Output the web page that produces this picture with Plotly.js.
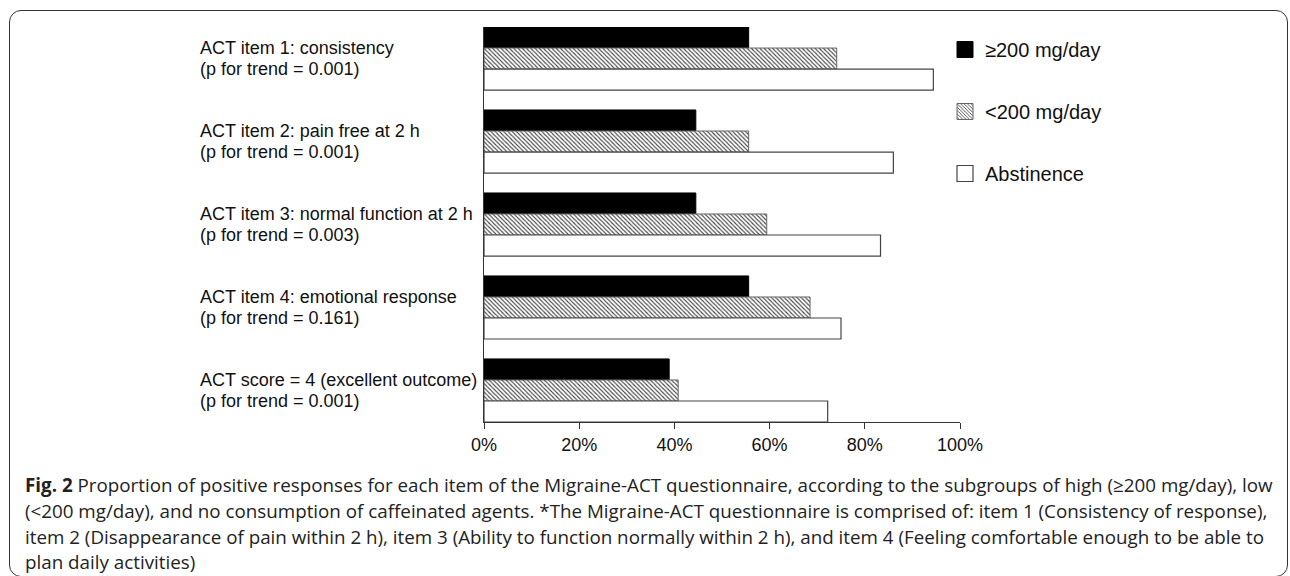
<!DOCTYPE html>
<html>
<head>
<meta charset="utf-8">
<script src="https://cdn.plot.ly/plotly-3.0.1.min.js"></script>
<style>
  html, body { margin: 0; padding: 0; background: #fff; }
  #wrap { position: relative; width: 1290px; height: 576px; overflow: hidden; }
  #chart { position: absolute; left: 0; top: 0; width: 1290px; height: 576px; }
  #frame { position: absolute; left: 9px; top: 10px; width: 1279px; height: 567px;
           border: 1.5px solid #333; border-radius: 12px; pointer-events: none; box-sizing: border-box; }
</style>
</head>
<body>
<div id="wrap">
  <div id="chart"></div>
  <div id="frame"></div>
</div>
<script>
// ---- data ----
const categories = [
  "ACT item 1: consistency<br>(p for trend = 0.001)",
  "ACT item 2: pain free at 2 h<br>(p for trend = 0.001)",
  "ACT item 3: normal function at 2 h<br>(p for trend = 0.003)",
  "ACT item 4: emotional response<br>(p for trend = 0.161)",
  "ACT score = 4 (excellent outcome)<br>(p for trend = 0.001)"
];
const seriesNames = ["≥200 mg/day", "<200 mg/day", "Abstinence"];
const high = [55.6, 44.5, 44.5, 55.6, 38.9];
const low = [74.1, 55.6, 59.4, 68.5, 40.8];
const abstinence = [94.4, 86.0, 83.3, 75.0, 72.2];
const xTickVals = [0, 20, 40, 60, 80, 100];
const xTickText = ["0%", "20%", "40%", "60%", "80%", "100%"];
const captionLines = [
  "<b>Fig. 2</b> Proportion of positive responses for each item of the Migraine-ACT questionnaire, according to the subgroups of high (≥200 mg/day), low",
  "(<200 mg/day), and no consumption of caffeinated agents. *The Migraine-ACT questionnaire is comprised of: item 1 (Consistency of response),",
  "item 2 (Disappearance of pain within 2 h), item 3 (Ability to function normally within 2 h), and item 4 (Feeling comfortable enough to be able to",
  "plan daily activities)"
];

// ---- layout geometry (pixels) ----
const W = 1290, H = 576;
const plotL = 484, plotR = 960, plotT = 27, plotB = 422;
const pw = plotR - plotL, ph = plotB - plotT;
const px2x = p => (p - plotL) / pw;
const py2y = p => (plotB - p) / ph;
const gap = 0.24;

const yIdx = categories.map((_, i) => i);

const traces = [
  { type: "bar", orientation: "h", name: seriesNames[0], x: high, y: yIdx, legendgroup: "a",
    marker: { color: "#000", line: { color: "#000", width: 1 } }, hoverinfo: "x+name" },
  { type: "bar", orientation: "h", name: seriesNames[1], x: low, y: yIdx, legendgroup: "b",
    marker: { color: "#fff", line: { color: "#666", width: 1 },
              pattern: { shape: "\\", size: 3, solidity: 0.35, fgcolor: "#3a3a3a", bgcolor: "#fff" } },
    hoverinfo: "x+name" },
  { type: "bar", orientation: "h", name: seriesNames[2], x: abstinence, y: yIdx, legendgroup: "c",
    marker: { color: "#fff", line: { color: "#444", width: 1.2 } }, hoverinfo: "x+name" }
];

const annotations = [];
categories.forEach((c, i) => {
  const lines = c.split("<br>");
  lines.forEach((ln, k) => {
    annotations.push({
      text: ln, xref: "paper", yref: "y", x: px2x(198), y: i,
      yshift: (lines.length - 1) * 10.75 - k * 21.5,
      xanchor: "left", yanchor: "middle", align: "left", showarrow: false,
      font: { family: "Liberation Sans, Arial, sans-serif", size: 18, color: "#111" }
    });
  });
});
const capY = [485, 511, 537, 562];
captionLines.forEach((t, i) => {
  annotations.push({
    text: t, xref: "paper", yref: "paper", x: px2x(23), y: py2y(capY[i]),
    xanchor: "left", yanchor: "middle", align: "left", showarrow: false,
    font: { family: "Open Sans, sans-serif", size: 18.8, color: "#222" }
  });
});

const layout = {
  width: W, height: H,
  margin: { l: plotL, r: W - plotR, t: plotT, b: H - plotB, pad: 0 },
  paper_bgcolor: "#fff", plot_bgcolor: "#fff",
  barmode: "group", bargap: gap, bargroupgap: 0,
  showlegend: true,
  legend: {
    x: px2x(945), y: py2y(30), xanchor: "left", yanchor: "top",
    traceorder: "grouped", tracegroupgap: 33,
    font: { family: "Liberation Sans, Arial, sans-serif", size: 20, color: "#111" },
    bgcolor: "rgba(0,0,0,0)"
  },
  xaxis: {
    range: [0, 100], tickvals: xTickVals, ticktext: xTickText,
    showgrid: false, zeroline: false, showline: true, linecolor: "#333", linewidth: 1,
    ticks: "outside", ticklen: 6, tickcolor: "#333", tickwidth: 1,
    tickfont: { family: "Liberation Sans, Arial, sans-serif", size: 18, color: "#111" },
    fixedrange: true
  },
  yaxis: {
    type: "linear", range: [4.5 - gap / 2, -0.5 + gap / 2],
    showticklabels: false, ticks: "", showgrid: false, zeroline: false,
    showline: true, linecolor: "#333", linewidth: 1, fixedrange: true
  },
  annotations: annotations
};

Plotly.newPlot("chart", traces, layout, { displayModeBar: false, staticPlot: true }).then(gd => {
  // enlarge legend swatches to match the reference's 16px squares
  gd.querySelectorAll(".legendpoints path").forEach(p => {
    p.setAttribute("d", "M8,8H-8V-8H8Z");
  });
});
</script>
</body>
</html>
